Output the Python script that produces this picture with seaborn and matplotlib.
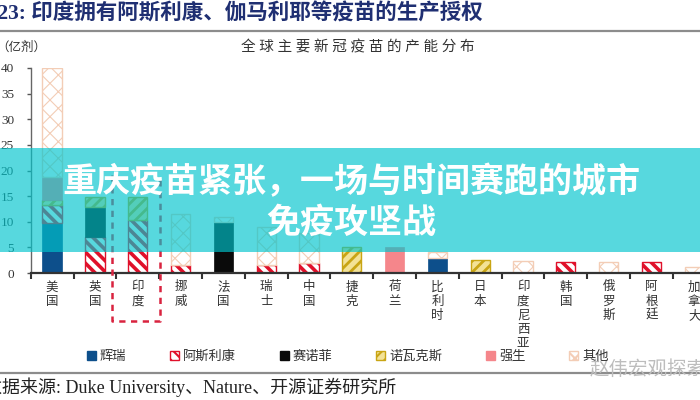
import numpy as np
import pandas as pd
import matplotlib.pyplot as plt
import seaborn as sns
from matplotlib.patches import Patch, Rectangle
from matplotlib.lines import Line2D

# 数据：全球主要新冠疫苗产能（亿剂），自下而上堆叠
countries = ['美国', '英国', '印度', '挪威', '法国', '瑞士', '中国', '捷克',
             '荷兰', '比利时', '日本', '印度尼西亚', '韩国', '俄罗斯', '阿根廷', '加拿大']
pfizer = [9.7, 0, 0, 0, 0, 0, 0, 0, 0, 2.9, 0, 0, 0, 0, 0, 0]
az = [3.5, 7.1, 10.3, 1.6, 0, 1.6, 1.9, 0, 0, 0, 0, 0, 2.2, 0, 2.2, 0]
sanofi = [0, 5.8, 0, 0, 10.0, 0, 0, 0, 0, 0, 0, 0, 0, 0, 0, 0]
novavax = [1.0, 2.0, 4.6, 0, 0, 0, 0, 5.1, 0, 0, 2.5, 0, 0, 0, 0, 0]
jnj = [4.5, 0, 0, 0, 0, 0, 0, 0, 5.1, 0, 0, 0, 0, 0, 0, 0]
others = [21.3, 0, 0, 10.0, 1.0, 7.4, 5.9, 0, 0, 1.1, 0, 2.4, 0, 2.2, 0, 1.2]

series_names = ['辉瑞', '阿斯利康', '赛诺菲', '诺瓦克斯', '强生', '其他']
series_values = [pfizer, az, sanofi, novavax, jnj, others]
yticks = list(range(0, 41, 5))

styles = {
    '辉瑞': dict(fc='#0d4f8b', ec='#0d4f8b', hatch=None, lw=0.5, hlw=1.0),
    '阿斯利康': dict(fc='white', ec='#e0102a', hatch='\\\\\\', lw=1.0, hlw=2.6),
    '赛诺菲': dict(fc='#0a0a0a', ec='#0a0a0a', hatch=None, lw=0.5, hlw=1.0),
    '诺瓦克斯': dict(fc='#f3e296', ec='#c9a514', hatch='///', lw=1.0, hlw=2.0),
    '强生': dict(fc='#f5868b', ec='#f5868b', hatch=None, lw=0.5, hlw=1.0),
    '其他': dict(fc='white', ec='#f3cdb6', hatch='xx', lw=1.0, hlw=0.8),
}

sns.set_theme(style='ticks')
plt.rcParams['font.family'] = ['Liberation Serif', 'Noto Sans CJK SC']
plt.rcParams['hatch.linewidth'] = 1.5

fig = plt.figure(figsize=(7, 4), dpi=100)
fig.patch.set_facecolor('white')
ax = fig.add_axes([30.7 / 700, 127 / 400, 685 / 700, 205 / 400])
ax.set_facecolor('white')

bottom = np.zeros(len(countries))
for name, vals in zip(series_names, series_values):
    st = styles[name]
    n_before = len(ax.patches)
    df = pd.DataFrame({'国家': countries, '产能': vals})
    sns.barplot(data=df, x='国家', y='产能', order=countries, ax=ax, width=0.45,
                bottom=bottom.copy(), color=st['fc'], edgecolor=st['ec'],
                hatch=st['hatch'], linewidth=st['lw'], saturation=1,
                errorbar=None, zorder=2)
    for p in ax.patches[n_before:]:
        if hasattr(p, 'set_hatch_linewidth'):
            p.set_hatch_linewidth(st['hlw'])
    bottom += np.array(vals)

# 去掉高度为 0 的空条
for p in list(ax.patches):
    if p.get_height() == 0:
        p.remove()

ax.set_xlim(-0.5, len(countries) - 0.5)
ax.set_ylim(0, 40)
ax.set_yticks(yticks)
ax.set_xlabel('')
ax.set_ylabel('')
ax.set_xticks(range(len(countries)))
ax.set_xticklabels(['\n'.join(c) for c in countries], fontsize=9,
                   linespacing=1.25, color='#333333')
ax.set_xticks(np.arange(-0.5, len(countries)), minor=True)
ax.tick_params(axis='x', which='major', length=0, pad=6)
ax.tick_params(axis='x', which='minor', length=4, width=1.5, color='#333333',
               direction='out')
ax.tick_params(axis='y', length=3, width=1, color='#555555', pad=9,
               labelsize=9.5, labelcolor='#333333')
for s in ['top', 'right']:
    ax.spines[s].set_visible(False)
ax.spines['left'].set_color('#666666')
ax.spines['left'].set_linewidth(1.0)
ax.spines['bottom'].set_color('#333333')
ax.spines['bottom'].set_linewidth(1.6)
ax.grid(False)

# 印度的红色虚线框
box_x = [1.39, 1.39, 2.52, 2.52]
box_y = [19.1, -9.4, -9.4, 19.1]
ax.plot(box_x, box_y, color='#d9233f', lw=1.8, ls=(0, (2.5, 2.2)),
        clip_on=False, zorder=3)

# 标题、单位、副标题
fig.text(-24 / 700, 1 - 14 / 400, '图23: 印度拥有阿斯利康、伽马利耶等疫苗的生产授权',
         fontsize=15.5, fontweight='bold', color='#1f2f72', va='center', ha='left')
fig.add_artist(Line2D([0, 1], [1 - 31 / 400, 1 - 31 / 400], color='#8c8c8c',
                      lw=1.6, transform=fig.transFigure))
fig.text(-4 / 700, 1 - 48 / 400, '（亿剂）', fontsize=9, color='#333333',
         va='center', ha='left')
fig.text(358 / 700, 1 - 47 / 400, ' '.join('全球主要新冠疫苗的产能分布'),
         fontsize=10.5, color='#333333', va='center', ha='center')

# 图例
handles = [Patch(facecolor=styles[n]['fc'], edgecolor=styles[n]['ec'],
                 hatch=styles[n]['hatch'], linewidth=1.0, label=n)
           for n in series_names]
fig.legend(handles=handles, ncol=6, loc='center left',
           bbox_to_anchor=(80 / 700, 1 - 357 / 400), frameon=False,
           fontsize=9.5, handlelength=0.7, handleheight=0.7,
           handletextpad=0.3, columnspacing=3.3, borderpad=0, labelcolor='#333333')

# 底部分隔线与数据来源
fig.add_artist(Line2D([0, 1], [1 - 373 / 400, 1 - 373 / 400], color='#8c8c8c',
                      lw=1.6, transform=fig.transFigure))
fig.text(-16 / 700, 1 - 387 / 400, '数据来源: Duke University、Nature、开源证券研究所',
         fontsize=13, color='#222222', va='center', ha='left')
fig.text(590 / 700, 1 - 369 / 400, '赵伟宏观探索', fontsize=14, color='#bdbdbd',
         va='center', ha='left', family=['Noto Sans CJK SC'], zorder=5)

# 半透明青色横幅与标题文字
fig.add_artist(Rectangle((0, 1 - 251.7 / 400), 1, 103.7 / 400,
                         transform=fig.transFigure, facecolor='#00c5cd',
                         alpha=0.66, edgecolor='none', zorder=10))
fig.text(351 / 700, 1 - 182 / 400, '重庆疫苗紧张，一场与时间赛跑的城市',
         fontsize=24.5, fontweight='bold', color='white', ha='center', va='center',
         family=['Noto Sans CJK SC'], zorder=11)
fig.text(351 / 700, 1 - 222 / 400, '免疫攻坚战',
         fontsize=24.5, fontweight='bold', color='white', ha='center', va='center',
         family=['Noto Sans CJK SC'], zorder=11)

fig.savefig('out.png', dpi=100, facecolor='white')
